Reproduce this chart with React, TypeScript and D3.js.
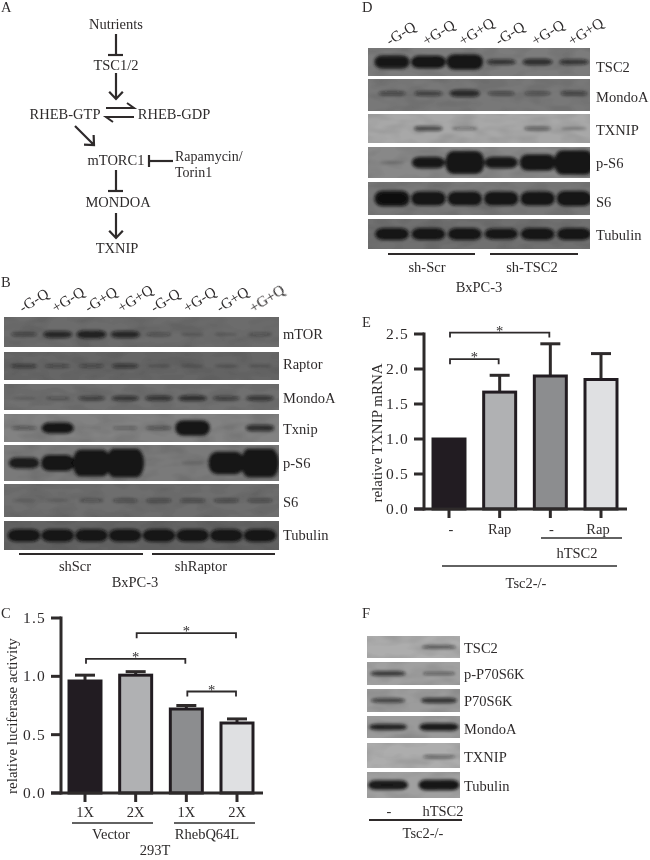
import React, { useEffect, useRef } from "react";
import * as d3 from "d3";

const INK = "#2e2b2c";
const FONT = "'Liberation Serif', serif";

// panel B
const bLanes = ["-G-Q", "+G-Q", "-G+Q", "+G+Q", "-G-Q", "+G-Q", "-G+Q", "+G+Q"];
const bMtor = [0.28, 0.45, 0.5, 0.45, 0.22, 0.14, 0.12, 0.18];
const bRaptor = [0.3, 0.25, 0.25, 0.33, 0.15, 0.15, 0.15, 0.12];
const bMondoA = [0.1, 0.2, 0.33, 0.38, 0.38, 0.42, 0.33, 0.38];
const bTxnip = [0.25, 0.65, 0.02, 0.2, 0.25, 0.8, 0.03, 0.45];
const bPS6 = [0.55, 0.7, 0.95, 0.98, 0, 0.1, 0.85, 0.98];
const bS6 = [0.1, 0.1, 0.2, 0.22, 0.25, 0.25, 0.25, 0.25];
const bTubulin = [0.68, 0.68, 0.68, 0.68, 0.68, 0.68, 0.68, 0.68];

// panel D
const dLanes = ["-G-Q", "+G-Q", "+G+Q", "-G-Q", "+G-Q", "+G+Q"];
const dTsc2 = [0.74, 0.7, 0.8, 0.4, 0.44, 0.4];
const dMondoA = [0.28, 0.32, 0.45, 0.28, 0.24, 0.3];
const dTxnip = [0, 0.36, 0.2, 0, 0.26, 0.17];
const dPS6 = [0.12, 0.62, 0.94, 0.62, 0.78, 0.97];
const dS6 = [0.72, 0.68, 0.68, 0.68, 0.68, 0.7];
const dTubulin = [0.65, 0.65, 0.65, 0.62, 0.65, 0.65];

// panel F
const fTsc2 = [0, 0.34];
const fPP70 = [0.42, 0.28];
const fP70 = [0.38, 0.45];
const fMondoA = [0.52, 0.6];
const fTxnip = [0.02, 0.26];
const fTubulin = [0.62, 0.66];

// panel C
const cCategories = ["1X", "2X", "1X", "2X"];
const cValues = [0.96, 1.01, 0.72, 0.6];
const cErrors = [1.01, 1.04, 0.75, 0.635];
const cTicks = [0, 0.5, 1, 1.5];

// panel E
const eCategories = ["-", "Rap", "-", "Rap"];
const eValues = [1, 1.67, 1.9, 1.85];
const eErrors = [1, 1.91, 2.36, 2.22];
const eTicks = [0, 0.5, 1, 1.5, 2, 2.5];

const barFills = ["#231f20", "#b0b1b3", "#8c8d8f", "#dfe0e2"];

const App = () => {
  const svgRef = useRef<SVGSVGElement>(null);

  useEffect(() => {
    const svg = d3.select(svgRef.current);
    svg.selectAll("*").remove();

    const defs = svg.append("defs");
    defs.append("filter").attr("id", "bandBlur")
      .attr("x", "-30%").attr("y", "-60%").attr("width", "160%").attr("height", "220%")
      .append("feGaussianBlur").attr("stdDeviation", 1.8);
    defs.append("filter").attr("id", "soft")
      .attr("filterUnits", "userSpaceOnUse")
      .attr("x", 0).attr("y", 0).attr("width", 650).attr("height", 860)
      .append("feGaussianBlur").attr("stdDeviation", 0.35);
    const grain = defs.append("filter").attr("id", "grain")
      .attr("x", "0").attr("y", "0").attr("width", "100%").attr("height", "100%");
    grain.append("feTurbulence").attr("type", "fractalNoise")
      .attr("baseFrequency", "0.04 0.09").attr("numOctaves", 2).attr("seed", 4);
    grain.append("feColorMatrix").attr("values", "0 0 0 0 0  0 0 0 0 0  0 0 0 0 0  1 0 0 0 -0.4");

    const root = svg.append("g").attr("font-family", FONT).attr("fill", INK).attr("filter", "url(#soft)");

    const label = (txt: string, x: number, y: number, anchor = "middle", size = 14.5) =>
      root.append("text").attr("x", x).attr("y", y).attr("text-anchor", anchor)
        .attr("font-size", size).text(txt);

    const line = (x1: number, y1: number, x2: number, y2: number, w = 2) =>
      root.append("line").attr("x1", x1).attr("y1", y1).attr("x2", x2).attr("y2", y2)
        .attr("stroke", INK).attr("stroke-width", w);

    // blots
    const opacity = d3.scaleLinear().domain([0, 0.1, 0.3, 0.55, 0.8]).range([0, 0.18, 0.52, 0.88, 1]).clamp(true);
    let clipCount = 0;

    const drawBlot = (cfg: any) => {
      const lane = d3.scalePoint<number>().domain(d3.range(cfg.lanes)).range(cfg.range);
      cfg.rows.forEach((row: any) => {
        const h = row.y1 - row.y0;
        const bandH = (d: number) => h * (0.08 + 0.75 * d * d);
        const bandW = (d: number) => cfg.bandWidth * (0.55 + 0.45 * d);
        const clipId = `row${clipCount++}`;
        defs.append("clipPath").attr("id", clipId).append("rect")
          .attr("x", cfg.x0).attr("y", row.y0).attr("width", cfg.x1 - cfg.x0).attr("height", h);
        root.append("rect").attr("x", cfg.x0).attr("y", row.y0)
          .attr("width", cfg.x1 - cfg.x0).attr("height", h).attr("fill", row.bg);
        root.append("rect").attr("x", cfg.x0).attr("y", row.y0)
          .attr("width", cfg.x1 - cfg.x0).attr("height", h)
          .attr("filter", "url(#grain)").attr("opacity", 0.22);
        root.append("g").attr("clip-path", `url(#${clipId})`)
          .append("g").attr("filter", "url(#bandBlur)")
          .selectAll("rect").data(row.values as number[]).join("rect")
          .attr("x", (d, i) => lane(i)! - bandW(d) / 2)
          .attr("width", d => bandW(d))
          .attr("y", d => row.y0 + h * (row.mid ?? 0.5) - bandH(d) / 2)
          .attr("height", d => bandH(d))
          .attr("rx", 8).attr("ry", d => bandH(d) / 2.2)
          .attr("fill", "#121212")
          .attr("opacity", d => opacity(d));
        label(row.label, cfg.labelX, row.base, "start");
      });
    };

    drawBlot({
      lanes: 8, range: [24, 260], x0: 4, x1: 279, bandWidth: 38, labelX: 283,
      rows: [
        { label: "mTOR", values: bMtor, y0: 317, y1: 347, base: 339, bg: "#6c6c6c", mid: 0.58 },
        { label: "Raptor", values: bRaptor, y0: 352, y1: 380, base: 369, bg: "#666666" },
        { label: "MondoA", values: bMondoA, y0: 384, y1: 410, base: 403, bg: "#6f6f6f", mid: 0.55 },
        { label: "Txnip", values: bTxnip, y0: 414, y1: 442, base: 434, bg: "#828282" },
        { label: "p-S6", values: bPS6, y0: 445, y1: 481, base: 468, bg: "#7a7a7a" },
        { label: "S6", values: bS6, y0: 484, y1: 517, base: 507, bg: "#6e6e6e" },
        { label: "Tubulin", values: bTubulin, y0: 521, y1: 550, base: 540, bg: "#636363" },
      ],
    });

    drawBlot({
      lanes: 6, range: [392, 574], x0: 368, x1: 590, bandWidth: 40, labelX: 596,
      rows: [
        { label: "TSC2", values: dTsc2, y0: 48, y1: 76, base: 72, bg: "#7c7c7c" },
        { label: "MondoA", values: dMondoA, y0: 79, y1: 111, base: 102, bg: "#787878", mid: 0.45 },
        { label: "TXNIP", values: dTxnip, y0: 114, y1: 143, base: 135, bg: "#a8a8a8" },
        { label: "p-S6", values: dPS6, y0: 147, y1: 178, base: 168, bg: "#888888" },
        { label: "S6", values: dS6, y0: 182, y1: 215, base: 207, bg: "#787878" },
        { label: "Tubulin", values: dTubulin, y0: 219, y1: 249, base: 240, bg: "#707070" },
      ],
    });

    drawBlot({
      lanes: 2, range: [388, 439], x0: 367, x1: 460, bandWidth: 48, labelX: 464,
      rows: [
        { label: "TSC2", values: fTsc2, y0: 636, y1: 658, base: 653, bg: "#adadad" },
        { label: "p-P70S6K", values: fPP70, y0: 662, y1: 685, base: 679, bg: "#a0a0a0" },
        { label: "P70S6K", values: fP70, y0: 689, y1: 712, base: 706, bg: "#9c9c9c" },
        { label: "MondoA", values: fMondoA, y0: 716, y1: 738, base: 734, bg: "#9a9a9a" },
        { label: "TXNIP", values: fTxnip, y0: 743, y1: 768, base: 762, bg: "#adadad", mid: 0.55 },
        { label: "Tubulin", values: fTubulin, y0: 772, y1: 798, base: 791, bg: "#a0a0a0" },
      ],
    });

    // lane headings
    const headX = d3.scalePoint<number>().domain(d3.range(8)).range([23, 253]);
    bLanes.forEach((t, i) => {
      label(t, headX(i)!, 313, "start", 15).attr("transform", `rotate(-32 ${headX(i)} 313)`);
    });
    const headD = d3.scalePoint<number>().domain(d3.range(6)).range([390, 572]);
    dLanes.forEach((t, i) => {
      label(t, headD(i)!, 46, "start", 15).attr("transform", `rotate(-32 ${headD(i)} 46)`);
    });

    // bar panels
    const drawBars = (cfg: any) => {
      const y = d3.scaleLinear().domain(cfg.domain).range(cfg.yRange);
      const x = d3.scalePoint<number>().domain(d3.range(4)).range(cfg.xRange);
      const [y0, y1] = cfg.yRange;
      const halfBar = 16;

      cfg.errors.forEach((e: number, i: number) => {
        if (e <= cfg.values[i]) return;
        line(x(i)!, y(cfg.values[i]), x(i)!, y(e), 3);
        line(x(i)! - 10, y(e), x(i)! + 10, y(e), 3);
      });

      root.append("g").selectAll("rect").data(cfg.values as number[]).join("rect")
        .attr("x", (d, i) => x(i)! - halfBar)
        .attr("y", d => y(d))
        .attr("width", halfBar * 2)
        .attr("height", d => y0 - y(d))
        .attr("fill", (d, i) => barFills[i])
        .attr("stroke", "#231f20")
        .attr("stroke-width", 3);

      // axes
      line(cfg.axisX, y1 - 1.5, cfg.axisX, y0 + 1.5, 3);
      line(cfg.axisX - 10, y0, cfg.axisEnd, y0, 3);
      cfg.ticks.forEach((t: number) => {
        line(cfg.axisX - 10, y(t), cfg.axisX, y(t), 3);
        label(d3.format(".1f")(t), cfg.axisX - 15, y(t) + 5, "end", 15.5).attr("letter-spacing", 1.2);
      });
      cfg.categories.forEach((c: string, i: number) => {
        line(x(i)!, y0, x(i)!, y0 + cfg.tickLen, 3);
        label(c, x(i)! + (cfg.catShift ? cfg.catShift[i] : 0), cfg.catBase, "middle", cfg.catSize);
      });

      // significance brackets, spanning between bars
      cfg.brackets.forEach((b: any) => {
        const yb = y(b.level);
        const xa = x(b.from)! + 1;
        const xb = x(b.to)! - 1;
        root.append("path")
          .attr("d", `M${xa},${yb + 5}V${yb}H${xb}V${yb + 5}`)
          .attr("fill", "none").attr("stroke", INK).attr("stroke-width", 1.8);
        label("*", (xa + xb) / 2, yb + 3, "middle", 14.5);
      });
    };

    drawBars({
      domain: [0, 1.5], yRange: [793, 618], xRange: [85, 237], axisX: 61, axisEnd: 263,
      values: cValues, errors: cErrors, ticks: cTicks, categories: cCategories,
      tickLen: 9, catBase: 817, catSize: 14.5,
      brackets: [
        { from: 0, to: 2, level: 1.15 },
        { from: 1, to: 3, level: 1.37 },
        { from: 2, to: 3, level: 0.87 },
      ],
    });

    drawBars({
      domain: [0, 2.5], yRange: [509, 334], xRange: [449, 601], axisX: 424, axisEnd: 627,
      values: eValues, errors: eErrors, ticks: eTicks, categories: eCategories,
      tickLen: 9, catBase: 534, catSize: 14.5, catShift: [2, 0, 1, -3],
      brackets: [
        { from: 0, to: 2, level: 2.52 },
        { from: 0, to: 1, level: 2.14 },
      ],
    });

    label("relative luciferase activity", 17, 716, "middle", 15).attr("transform", "rotate(-90 17 716)");
    label("relative TXNIP mRNA", 382, 433, "middle", 15).attr("transform", "rotate(-90 382 433)");

    // panel A pathway
    const arrow = (x1: number, y1: number, x2: number, y2: number, barb = 7, w = 2.2) => {
      const a = Math.atan2(y2 - y1, x2 - x1);
      const p = (t: number) => `${x2 - barb * Math.cos(a + t)},${y2 - barb * Math.sin(a + t)}`;
      root.append("path")
        .attr("d", `M${x1},${y1}L${x2},${y2}M${p(0.75)}L${x2},${y2}L${p(-0.75)}`)
        .attr("fill", "none").attr("stroke", INK).attr("stroke-width", w);
    };
    const halfArrow = (x1: number, y: number, x2: number, side: number) => {
      const dir = Math.sign(x2 - x1);
      root.append("path")
        .attr("d", `M${x1},${y}H${x2}L${x2 - dir * 7},${y + side * 5}`)
        .attr("fill", "none").attr("stroke", INK).attr("stroke-width", 2);
    };

    label("Nutrients", 116, 29);
    line(116, 34, 116, 55, 2.2);
    line(108, 55, 123, 55, 2.2);
    label("TSC1/2", 116, 70);
    arrow(116, 73, 116, 99, 10);
    label("RHEB-GTP", 65, 119);
    label("RHEB-GDP", 174, 119);
    halfArrow(106, 108, 134, -1);
    halfArrow(134, 117, 106, 1);
    arrow(75, 126, 94, 145, 10);
    label("mTORC1", 116, 165);
    line(149, 161, 173, 161, 2.2);
    line(149, 155, 149, 167, 2.2);
    label("Rapamycin/", 175, 160.5, "start", 14);
    label("Torin1", 175, 176.5, "start", 14);
    line(116, 170, 116, 191, 2.2);
    line(108, 191, 123, 191, 2.2);
    label("MONDOA", 118, 207);
    arrow(116, 213, 116, 238, 10);
    label("TXNIP", 117, 253);

    // panel letters
    label("A", 1, 12, "start");
    label("B", 1, 287, "start");
    label("C", 1, 618, "start");
    label("D", 362, 12, "start");
    label("E", 362, 327, "start");
    label("F", 362, 618, "start");

    // captions under blots and bars
    line(19, 554, 143, 554);
    line(152, 554, 275, 554);
    label("shScr", 75, 571);
    label("shRaptor", 201, 571);
    label("BxPC-3", 135, 587);

    line(388, 254, 475, 254);
    line(490, 254, 578, 254);
    label("sh-Scr", 427, 272);
    label("sh-TSC2", 532, 272);
    label("BxPC-3", 479, 292);

    line(72, 823, 153, 823, 1.5);
    line(174, 823, 255, 823, 1.5);
    label("Vector", 111, 839);
    label("RhebQ64L", 207, 839);
    label("293T", 155, 855);

    line(541, 538, 622, 538, 1.5);
    line(442, 566, 617, 566, 1.5);
    label("hTSC2", 577, 558);
    label("Tsc2-/-", 526, 588);

    label("-", 389, 816);
    label("hTSC2", 443, 816);
    line(369, 820, 462, 820);
    label("Tsc2-/-", 423, 838);
  }, []);

  return (
    <svg
      ref={svgRef}
      width={650}
      height={860}
      style={{ position: "absolute", left: 0, top: 0, background: "#fff" }}
    />
  );
};

export default App;
